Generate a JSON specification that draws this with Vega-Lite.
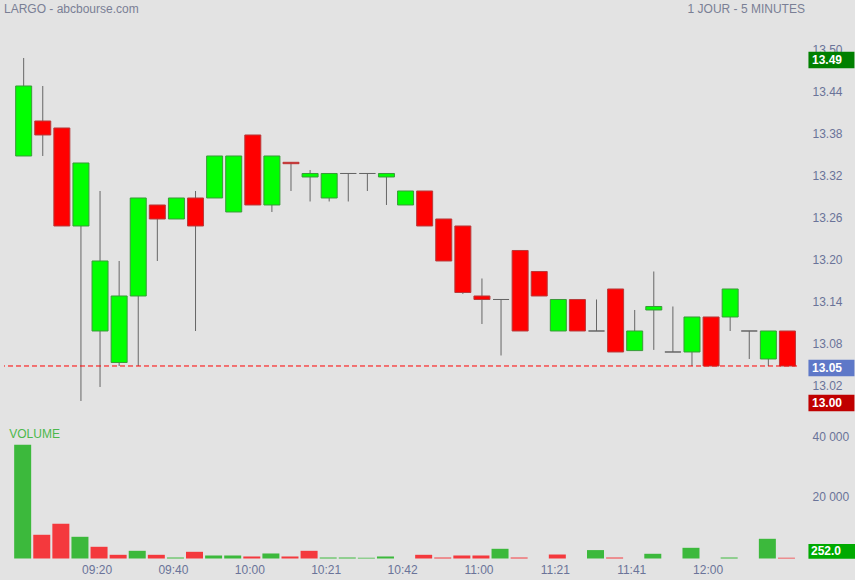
{
  "$schema": "https://vega.github.io/schema/vega-lite/v6.json",
  "autosize": "none",
  "width": 793,
  "height": 558.5,
  "padding": {"left": 4, "top": 0, "right": 58, "bottom": 21.5},
  "background": "#e3e3e3",
  "config": {
    "view": {"stroke": null},
    "font": "Liberation Sans",
    "axis": {"labelFont": "Liberation Sans", "labelFontSize": 12, "labelColor": "#6a7399", "domain": false, "ticks": false, "tickSize": 0, "grid": false, "labelOverlap": false}
  },
  "datasets": {
    "bougies": [
      {"t": "09:00", "o": 13.35, "h": 13.49, "l": 13.35, "c": 13.45, "v": 37900, "sens": "hausse"},
      {"t": "09:05", "o": 13.40, "h": 13.45, "l": 13.35, "c": 13.38, "v": 7900, "sens": "baisse"},
      {"t": "09:10", "o": 13.39, "h": 13.39, "l": 13.25, "c": 13.25, "v": 11560, "sens": "baisse"},
      {"t": "09:15", "o": 13.25, "h": 13.34, "l": 13.00, "c": 13.34, "v": 7230, "sens": "hausse"},
      {"t": "09:20", "o": 13.10, "h": 13.30, "l": 13.02, "c": 13.20, "v": 3900, "sens": "baisse"},
      {"t": "09:25", "o": 13.055, "h": 13.20, "l": 13.05, "c": 13.15, "v": 1230, "sens": "baisse"},
      {"t": "09:30", "o": 13.15, "h": 13.29, "l": 13.05, "c": 13.29, "v": 2560, "sens": "hausse"},
      {"t": "09:35", "o": 13.28, "h": 13.28, "l": 13.20, "c": 13.26, "v": 1230, "sens": "baisse"},
      {"t": "09:40", "o": 13.26, "h": 13.29, "l": 13.26, "c": 13.29, "v": 330, "sens": "hausse"},
      {"t": "09:45", "o": 13.29, "h": 13.30, "l": 13.10, "c": 13.25, "v": 2230, "sens": "baisse"},
      {"t": "09:50", "o": 13.29, "h": 13.35, "l": 13.29, "c": 13.35, "v": 1000, "sens": "hausse"},
      {"t": "09:55", "o": 13.27, "h": 13.35, "l": 13.27, "c": 13.35, "v": 1000, "sens": "hausse"},
      {"t": "10:00", "o": 13.38, "h": 13.38, "l": 13.28, "c": 13.28, "v": 670, "sens": "baisse"},
      {"t": "10:05", "o": 13.28, "h": 13.35, "l": 13.27, "c": 13.35, "v": 1670, "sens": "hausse"},
      {"t": "10:10", "o": 13.341, "h": 13.341, "l": 13.30, "c": 13.339, "v": 670, "sens": "baisse"},
      {"t": "10:15", "o": 13.32, "h": 13.33, "l": 13.285, "c": 13.325, "v": 2560, "sens": "baisse"},
      {"t": "10:21", "o": 13.29, "h": 13.325, "l": 13.285, "c": 13.325, "v": 330, "sens": "hausse"},
      {"t": "10:26", "o": 13.325, "h": 13.325, "l": 13.285, "c": 13.325, "v": 330, "sens": "hausse"},
      {"t": "10:31", "o": 13.325, "h": 13.325, "l": 13.30, "c": 13.325, "v": 250, "sens": "hausse"},
      {"t": "10:36", "o": 13.32, "h": 13.325, "l": 13.28, "c": 13.325, "v": 670, "sens": "hausse"},
      {"t": "10:42", "o": 13.28, "h": 13.30, "l": 13.28, "c": 13.30, "v": 0, "sens": "baisse"},
      {"t": "10:45", "o": 13.30, "h": 13.30, "l": 13.25, "c": 13.25, "v": 1230, "sens": "baisse"},
      {"t": "10:50", "o": 13.26, "h": 13.26, "l": 13.20, "c": 13.20, "v": 330, "sens": "baisse"},
      {"t": "10:55", "o": 13.25, "h": 13.25, "l": 13.153, "c": 13.155, "v": 1000, "sens": "baisse"},
      {"t": "11:00", "o": 13.15, "h": 13.175, "l": 13.11, "c": 13.145, "v": 1000, "sens": "baisse"},
      {"t": "11:05", "o": 13.145, "h": 13.145, "l": 13.065, "c": 13.145, "v": 3230, "sens": "hausse"},
      {"t": "11:10", "o": 13.215, "h": 13.215, "l": 13.10, "c": 13.10, "v": 330, "sens": "baisse"},
      {"t": "11:15", "o": 13.185, "h": 13.185, "l": 13.15, "c": 13.15, "v": 0, "sens": "hausse"},
      {"t": "11:21", "o": 13.10, "h": 13.145, "l": 13.10, "c": 13.145, "v": 1330, "sens": "baisse"},
      {"t": "11:25", "o": 13.145, "h": 13.145, "l": 13.10, "c": 13.10, "v": 0, "sens": "baisse"},
      {"t": "11:30", "o": 13.10, "h": 13.145, "l": 13.10, "c": 13.10, "v": 2800, "sens": "hausse"},
      {"t": "11:35", "o": 13.16, "h": 13.16, "l": 13.07, "c": 13.07, "v": 330, "sens": "baisse"},
      {"t": "11:41", "o": 13.072, "h": 13.13, "l": 13.072, "c": 13.10, "v": 0, "sens": "hausse"},
      {"t": "11:45", "o": 13.13, "h": 13.185, "l": 13.073, "c": 13.135, "v": 1570, "sens": "hausse"},
      {"t": "11:50", "o": 13.07, "h": 13.135, "l": 13.07, "c": 13.07, "v": 0, "sens": "baisse"},
      {"t": "11:55", "o": 13.07, "h": 13.12, "l": 13.05, "c": 13.12, "v": 3560, "sens": "hausse"},
      {"t": "12:00", "o": 13.12, "h": 13.12, "l": 13.05, "c": 13.05, "v": 0, "sens": "baisse"},
      {"t": "12:05", "o": 13.12, "h": 13.16, "l": 13.10, "c": 13.16, "v": 330, "sens": "hausse"},
      {"t": "12:10", "o": 13.10, "h": 13.10, "l": 13.06, "c": 13.10, "v": 0, "sens": "baisse"},
      {"t": "12:15", "o": 13.06, "h": 13.10, "l": 13.05, "c": 13.10, "v": 6560, "sens": "hausse"},
      {"t": "12:20", "o": 13.10, "h": 13.10, "l": 13.05, "c": 13.05, "v": 252, "sens": "baisse"}
    ],
    "reperes": [
      {"p": 13.49, "lab": "13.49", "kind": "haut"},
      {"p": 13.05, "lab": "13.05", "kind": "dernier"},
      {"p": 13.00, "lab": "13.00", "kind": "bas"}
    ]
  },
  "layer": [
    {
      "layer": [
        {
          "data": {"name": "bougies"},
          "mark": {"type": "rule", "color": "#666666", "strokeWidth": 1},
          "encoding": {
            "x": {"field": "t", "type": "ordinal", "scale": {"type": "band", "paddingInner": 0, "paddingOuter": 0.265, "align": 1},
              "axis": {"values": ["09:20", "09:40", "10:00", "10:21", "10:42", "11:00", "11:21", "11:41", "12:00"], "title": null, "labelAngle": 0, "labelPadding": 5.5, "labelOffset": -3}},
            "y": {"field": "l", "type": "quantitative", "scale": {"domain": [12.775, 13.572857], "nice": false, "zero": false},
              "axis": {"orient": "right", "values": [13.02, 13.08, 13.14, 13.2, 13.26, 13.32, 13.38, 13.44, 13.5], "format": ".2f", "title": null, "labelPadding": 15, "labelOffset": -1.5}},
            "y2": {"field": "h"}
          }
        },
        {
          "data": {"name": "bougies"},
          "mark": {"type": "bar", "width": 16, "strokeWidth": 1},
          "encoding": {
            "x": {"field": "t", "type": "ordinal", "scale": {"type": "band", "paddingInner": 0, "paddingOuter": 0.265, "align": 1},
              "axis": {"values": ["09:20", "09:40", "10:00", "10:21", "10:42", "11:00", "11:21", "11:41", "12:00"], "title": null, "labelAngle": 0, "labelPadding": 5.5, "labelOffset": -3}},
            "y": {"field": "o", "type": "quantitative", "scale": {"domain": [12.775, 13.572857], "nice": false, "zero": false},
              "axis": {"orient": "right", "values": [13.02, 13.08, 13.14, 13.2, 13.26, 13.32, 13.38, 13.44, 13.5], "format": ".2f", "title": null, "labelPadding": 15, "labelOffset": -1.5}},
            "y2": {"field": "c"},
            "fill": {"condition": [{"test": "datum.c > datum.o", "value": "#00ff00"}, {"test": "datum.c < datum.o", "value": "#ff0000"}], "value": "#666666"},
            "stroke": {"condition": [{"test": "datum.c > datum.o", "value": "#3a9a3a"}, {"test": "datum.c < datum.o", "value": "#b83a3a"}], "value": "#666666"}
          }
        },
        {
          "data": {"values": [{"p": 13.05}]},
          "mark": {"type": "rule", "color": "#ff0000", "strokeWidth": 1, "strokeDash": [5, 3], "x2Offset": 9},
          "encoding": {
            "y": {"field": "p", "type": "quantitative", "scale": {"domain": [12.775, 13.572857], "nice": false, "zero": false},
              "axis": {"orient": "right", "values": [13.02, 13.08, 13.14, 13.2, 13.26, 13.32, 13.38, 13.44, 13.5], "format": ".2f", "title": null, "labelPadding": 15, "labelOffset": -1.5}}
          }
        },
        {
          "data": {"name": "reperes"},
          "mark": {"type": "point", "shape": "M-1,-0.36L1,-0.36L1,0.36L-1,0.36Z", "filled": true, "opacity": 1, "size": 2116, "strokeWidth": 0, "xOffset": 44, "yOffset": 2},
          "encoding": {
            "x": {"datum": "12:20", "type": "ordinal", "scale": {"type": "band", "paddingInner": 0, "paddingOuter": 0.265, "align": 1},
              "axis": {"values": ["09:20", "09:40", "10:00", "10:21", "10:42", "11:00", "11:21", "11:41", "12:00"], "title": null, "labelAngle": 0, "labelPadding": 5.5, "labelOffset": -3}},
            "y": {"field": "p", "type": "quantitative", "scale": {"domain": [12.775, 13.572857], "nice": false, "zero": false},
              "axis": {"orient": "right", "values": [13.02, 13.08, 13.14, 13.2, 13.26, 13.32, 13.38, 13.44, 13.5], "format": ".2f", "title": null, "labelPadding": 15, "labelOffset": -1.5}},
            "fill": {"field": "kind", "type": "nominal", "scale": {"domain": ["haut", "dernier", "bas"], "range": ["#008000", "#5e78c8", "#c00000"]}, "legend": null}
          }
        },
        {
          "data": {"name": "reperes"},
          "mark": {"type": "text", "align": "left", "baseline": "middle", "dx": 24.5, "dy": 2, "fontSize": 12, "fontWeight": "bold", "color": "#ffffff"},
          "encoding": {
            "x": {"datum": "12:20", "type": "ordinal", "scale": {"type": "band", "paddingInner": 0, "paddingOuter": 0.265, "align": 1},
              "axis": {"values": ["09:20", "09:40", "10:00", "10:21", "10:42", "11:00", "11:21", "11:41", "12:00"], "title": null, "labelAngle": 0, "labelPadding": 5.5, "labelOffset": -3}},
            "y": {"field": "p", "type": "quantitative", "scale": {"domain": [12.775, 13.572857], "nice": false, "zero": false},
              "axis": {"orient": "right", "values": [13.02, 13.08, 13.14, 13.2, 13.26, 13.32, 13.38, 13.44, 13.5], "format": ".2f", "title": null, "labelPadding": 15, "labelOffset": -1.5}},
            "text": {"field": "lab"}
          }
        },
        {
          "data": {"values": [{"lab": "LARGO - abcbourse.com"}]},
          "mark": {"type": "text", "align": "left", "baseline": "middle", "dx": -19.7, "fontSize": 12, "color": "#7a7f95"},
          "encoding": {
            "x": {"datum": "09:00", "type": "ordinal", "scale": {"type": "band", "paddingInner": 0, "paddingOuter": 0.265, "align": 1},
              "axis": {"values": ["09:20", "09:40", "10:00", "10:21", "10:42", "11:00", "11:21", "11:41", "12:00"], "title": null, "labelAngle": 0, "labelPadding": 5.5, "labelOffset": -3}},
            "y": {"datum": 13.56, "type": "quantitative", "scale": {"domain": [12.775, 13.572857], "nice": false, "zero": false},
              "axis": {"orient": "right", "values": [13.02, 13.08, 13.14, 13.2, 13.26, 13.32, 13.38, 13.44, 13.5], "format": ".2f", "title": null, "labelPadding": 15, "labelOffset": -1.5}},
            "text": {"field": "lab"}
          }
        },
        {
          "data": {"values": [{"lab": "1 JOUR - 5 MINUTES"}]},
          "mark": {"type": "text", "align": "right", "baseline": "middle", "dx": 17.5, "fontSize": 12, "color": "#7a7f95"},
          "encoding": {
            "x": {"datum": "12:20", "type": "ordinal", "scale": {"type": "band", "paddingInner": 0, "paddingOuter": 0.265, "align": 1},
              "axis": {"values": ["09:20", "09:40", "10:00", "10:21", "10:42", "11:00", "11:21", "11:41", "12:00"], "title": null, "labelAngle": 0, "labelPadding": 5.5, "labelOffset": -3}},
            "y": {"datum": 13.56, "type": "quantitative", "scale": {"domain": [12.775, 13.572857], "nice": false, "zero": false},
              "axis": {"orient": "right", "values": [13.02, 13.08, 13.14, 13.2, 13.26, 13.32, 13.38, 13.44, 13.5], "format": ".2f", "title": null, "labelPadding": 15, "labelOffset": -1.5}},
            "text": {"field": "lab"}
          }
        }
      ]
    },
    {
      "layer": [
        {
          "data": {"name": "bougies"},
          "mark": {"type": "bar", "width": 17, "xOffset": -1},
          "encoding": {
            "x": {"field": "t", "type": "ordinal", "scale": {"type": "band", "paddingInner": 0, "paddingOuter": 0.265, "align": 1},
              "axis": {"values": ["09:20", "09:40", "10:00", "10:21", "10:42", "11:00", "11:21", "11:41", "12:00"], "title": null, "labelAngle": 0, "labelPadding": 5.5, "labelOffset": -3}},
            "y": {"field": "v", "type": "quantitative", "scale": {"domain": [0, 186000], "nice": false},
              "axis": {"orient": "right", "values": [20000, 40000], "labelExpr": "replace(format(datum.value, ','), ',', ' ')", "title": null, "labelPadding": 15, "labelOffset": -1.5}},
            "color": {"field": "sens", "type": "nominal", "scale": {"domain": ["hausse", "baisse"], "range": ["#3cb93c", "#f4393d"]}, "legend": null}
          }
        },
        {
          "data": {"values": [{"lab": "VOLUME"}]},
          "mark": {"type": "text", "align": "left", "baseline": "middle", "dx": -14.4, "fontSize": 12, "color": "#4cb84c"},
          "encoding": {
            "x": {"datum": "09:00", "type": "ordinal", "scale": {"type": "band", "paddingInner": 0, "paddingOuter": 0.265, "align": 1},
              "axis": {"values": ["09:20", "09:40", "10:00", "10:21", "10:42", "11:00", "11:21", "11:41", "12:00"], "title": null, "labelAngle": 0, "labelPadding": 5.5, "labelOffset": -3}},
            "y": {"datum": 41600, "type": "quantitative", "scale": {"domain": [0, 186000], "nice": false},
              "axis": {"orient": "right", "values": [20000, 40000], "labelExpr": "replace(format(datum.value, ','), ',', ' ')", "title": null, "labelPadding": 15, "labelOffset": -1.5}},
            "text": {"field": "lab"}
          }
        },
        {
          "data": {"values": [{"v": 252, "lab": "252.0"}]},
          "mark": {"type": "point", "shape": "M-1,-0.313L1,-0.313L1,0.313L-1,0.313Z", "filled": true, "opacity": 1, "size": 2209, "strokeWidth": 0, "color": "#00aa00", "xOffset": 44.5, "yOffset": -6.4},
          "encoding": {
            "x": {"datum": "12:20", "type": "ordinal", "scale": {"type": "band", "paddingInner": 0, "paddingOuter": 0.265, "align": 1},
              "axis": {"values": ["09:20", "09:40", "10:00", "10:21", "10:42", "11:00", "11:21", "11:41", "12:00"], "title": null, "labelAngle": 0, "labelPadding": 5.5, "labelOffset": -3}},
            "y": {"field": "v", "type": "quantitative", "scale": {"domain": [0, 186000], "nice": false},
              "axis": {"orient": "right", "values": [20000, 40000], "labelExpr": "replace(format(datum.value, ','), ',', ' ')", "title": null, "labelPadding": 15, "labelOffset": -1.5}}
          }
        },
        {
          "data": {"values": [{"v": 252, "lab": "252.0"}]},
          "mark": {"type": "text", "align": "left", "baseline": "middle", "dx": 23.5, "dy": -6.4, "fontSize": 12, "fontWeight": "bold", "color": "#ffffff"},
          "encoding": {
            "x": {"datum": "12:20", "type": "ordinal", "scale": {"type": "band", "paddingInner": 0, "paddingOuter": 0.265, "align": 1},
              "axis": {"values": ["09:20", "09:40", "10:00", "10:21", "10:42", "11:00", "11:21", "11:41", "12:00"], "title": null, "labelAngle": 0, "labelPadding": 5.5, "labelOffset": -3}},
            "y": {"field": "v", "type": "quantitative", "scale": {"domain": [0, 186000], "nice": false},
              "axis": {"orient": "right", "values": [20000, 40000], "labelExpr": "replace(format(datum.value, ','), ',', ' ')", "title": null, "labelPadding": 15, "labelOffset": -1.5}},
            "text": {"field": "lab"}
          }
        }
      ]
    }
  ],
  "resolve": {"scale": {"y": "independent"}}
}
